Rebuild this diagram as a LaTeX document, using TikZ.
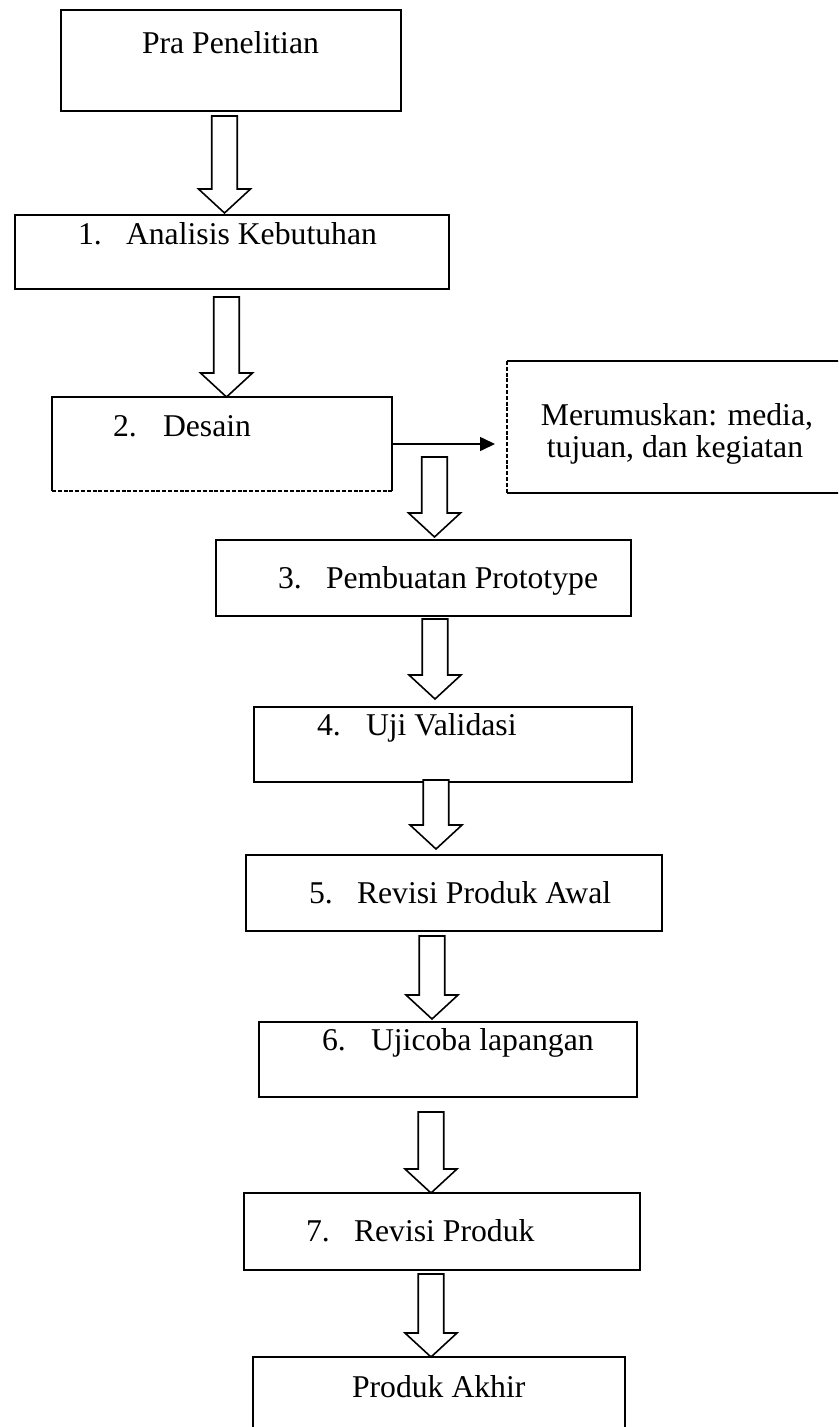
\documentclass[tikz,border=0pt]{standalone}
\usepackage{fontspec}
\setmainfont{Liberation Serif}
\usetikzlibrary{calc,arrows.meta}
\newcommand\barrow[5]{% from, to, x, top gap, tip gap
  \draw[blk] let \p1=(#1.south), \p2=(#2.north),
     \n1={\y1-(#4pt)}, \n2={\y2+(#5pt)}, \n3={\y2+(#5pt)+24pt} in
   ({#3pt-12.75pt},\n1) -- ({#3pt-12.75pt},\n3)
   -- ({#3pt-26pt},\n3) -- ({#3pt},\n2)
   -- ({#3pt+26pt},\n3) -- ({#3pt+12.75pt},\n3)
   -- ({#3pt+12.75pt},\n1) -- cycle;}
\begin{document}
\begin{tikzpicture}[x=1pt,y=-1pt,
  every node/.style={inner sep=0pt, outer sep=0pt},
  box/.style={draw, line width=1.6pt, anchor=north west},
  ebox/.style={anchor=north west},
  edge/.style={line width=1.6pt},
  fine/.style={line width=1.5pt, dash pattern=on 4pt off 1.8pt},
  lbl/.style={anchor=base west, font=\fontsize{31.7}{32}\selectfont},
  clbl/.style={anchor=base, font=\fontsize{31.7}{32}\selectfont},
  blk/.style={draw, line width=1.6pt, fill=white, line join=miter},
  conn/.style={line width=1.6pt, -{Triangle[length=15pt,width=14pt]}}]
\clip (0,0) rectangle (838,1427);
\fill[white] (0,0) rectangle (838,1427);

% boxes
\node[box, minimum width=340pt, minimum height=101pt] (pra) at (61,10) {};
\node[box, minimum width=434pt, minimum height=74pt] (ana) at (15,215) {};
\node[ebox, minimum width=340pt, minimum height=94pt] (des) at (52,397) {};
\node[ebox, minimum width=340pt, minimum height=132pt] (mer) at (507,361) {};
\node[box, minimum width=415pt, minimum height=76pt] (pem) at (216,540) {};
\node[box, minimum width=378pt, minimum height=75pt] (uji) at (254,707) {};
\node[box, minimum width=416pt, minimum height=76pt] (rv1) at (246,855) {};
\node[box, minimum width=378pt, minimum height=75pt] (uc) at (259,1022) {};
\node[box, minimum width=396pt, minimum height=77pt] (rv2) at (244,1193) {};
\node[box, minimum width=372pt, minimum height=110pt] (akh) at (253,1357) {};

% Desain box edges
\draw[edge] (des.south west) -- (des.north west) -- (des.north east) -- (des.south east);
\draw[fine] (des.south west) -- (des.south east);
% Merumuskan box edges
\draw[edge] (mer.north west) -- (mer.north east) -- (mer.south east) -- (mer.south west);
\draw[fine] (mer.north west) -- (mer.south west);

% texts
\node[lbl] (t0) at (142,53) {Pra Penelitian};
\node[lbl] (n1) at (78,244) {1.};
\node[lbl] (t1) at (126,244) {Analisis Kebutuhan};
\node[lbl] (n2) at (113,436) {2.};
\node[lbl] (t2) at (163,436) {Desain};
\node[clbl] (tm1) at (677,425) {Merumuskan: media,};
\node[clbl] (tm2) at (675,457) {tujuan, dan kegiatan};
\node[lbl] (n3) at (278,588) {3.};
\node[lbl] (t3) at (326,588) {Pembuatan Prototype};
\node[lbl] (n4) at (317,735) {4.};
\node[lbl] (t4) at (366,735) {Uji Validasi};
\node[lbl] (n5) at (309,903) {5.};
\node[lbl] (t5) at (357,903) {Revisi Produk Awal};
\node[lbl] (n6) at (322,1050) {6.};
\node[lbl] (t6) at (371,1050) {Ujicoba lapangan};
\node[lbl] (n7) at (306,1241) {7.};
\node[lbl] (t7) at (354,1241) {Revisi Produk};
\node[lbl] (t8) at (352,1397) {Produk Akhir};

% block arrows
\barrow{pra}{ana}{224.5}{5}{2}
\barrow{ana}{des}{226.5}{8}{0}
\barrow{des}{pem}{434.5}{-34}{3}
\barrow{pem}{uji}{435}{3}{8}
\barrow{uji}{rv1}{436}{-2}{6}
\barrow{rv1}{uc}{432}{5}{3}
\barrow{uc}{rv2}{431}{15}{0}
\barrow{rv2}{akh}{431}{4}{0}

% side arrow
\draw[conn] (des.east) -- ($(des.east -| mer.west)+(-12,0)$);
\end{tikzpicture}
\end{document}
